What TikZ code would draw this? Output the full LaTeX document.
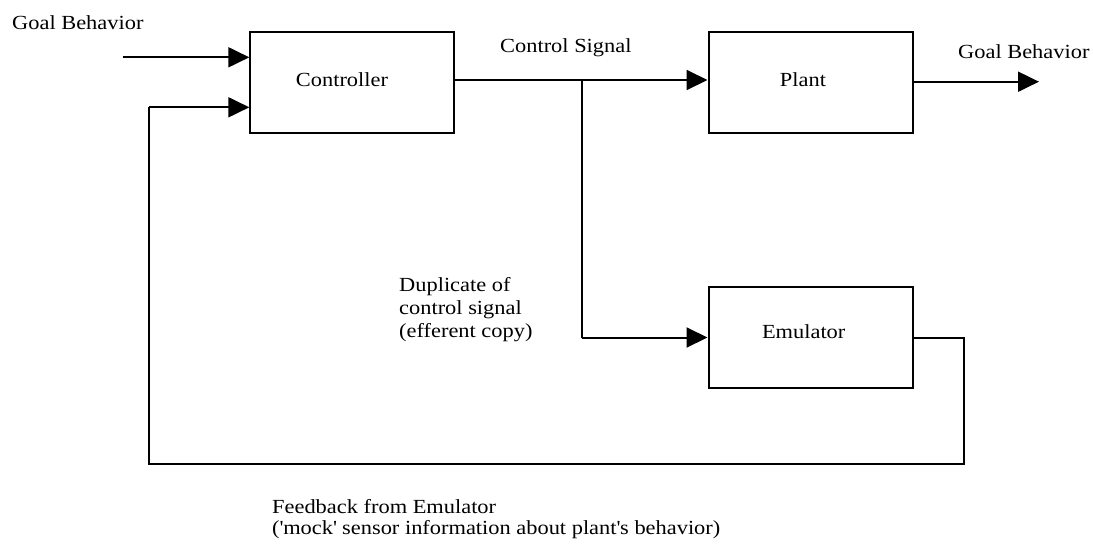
\documentclass[tikz,border=0pt]{standalone}
\usepackage{fontspec}
\setmainfont{Liberation Serif}[FakeStretch=1.12]
\usetikzlibrary{arrows.meta}
\begin{document}
\begin{tikzpicture}[x=1pt,y=-1pt,
  blockbox/.style={draw, line width=2pt, minimum width=204pt, minimum height=100.5pt, inner sep=0pt},
  lbl/.style={inner sep=0pt, font=\fontsize{20}{23}\selectfont},
  wire/.style={line width=2pt},
  arr/.style={line width=2pt, -{Triangle[length=21pt,width=20pt]}}]
\useasboundingbox (0,0) rectangle (1093,550);
% blocks
\node[blockbox] (ctrl) at (352.3,82.3) {};
\node[blockbox] (plant) at (810.5,82.3) {};
\node[blockbox] (emu) at (810.5,337.5) {};
\node[lbl] (ctrltext) at (342,80) {Controller};
\node[lbl] (planttext) at (803,80) {Plant};
\node[lbl] (emutext) at (803.7,331.7) {Emulator};
% labels
\node[lbl, anchor=base west] (goalin) at (12,29.3) {Goal Behavior};
\node[lbl, anchor=base west] (csig) at (500,52.3) {Control Signal};
\node[lbl, anchor=base west] (goalout) at (958,58.3) {Goal Behavior};
\node[lbl, anchor=north west, align=left] (dup) at (399,277) {Duplicate of\\control signal\\(efferent copy)};
\node[lbl, anchor=north west, align=left, font=\fontsize{20}{21}\selectfont] (fb) at (272,499.6) {Feedback from Emulator\\(\textquotesingle mock\textquotesingle{} sensor information about plant\textquotesingle s behavior)};
% coordinates
\coordinate (gin) at (122.7,57.3);
\coordinate (cs) at (454,80);
\coordinate (br) at (582,80);
\coordinate (gend) at (1039,81.7);
\coordinate (eb) at (964.3,464.3);
\coordinate (lb) at (149.3,464.3);
\coordinate (lt) at (149.3,107.3);
% connectors
\draw[arr] (gin) -- (gin -| ctrl.west);
\draw[arr] (cs) -- (cs -| plant.west);
\draw[wire] (br) -- (br |- emu.west);
\draw[arr] (br |- emu.west) -- (emu.west);
\draw[arr] (plant.east |- gend) -- (gend);
\draw[wire] (emu.east) -- (emu.east -| eb) -- (eb) -- (lb) -- (lt);
\draw[arr] (lt) -- (lt -| ctrl.west);
\end{tikzpicture}
\end{document}
